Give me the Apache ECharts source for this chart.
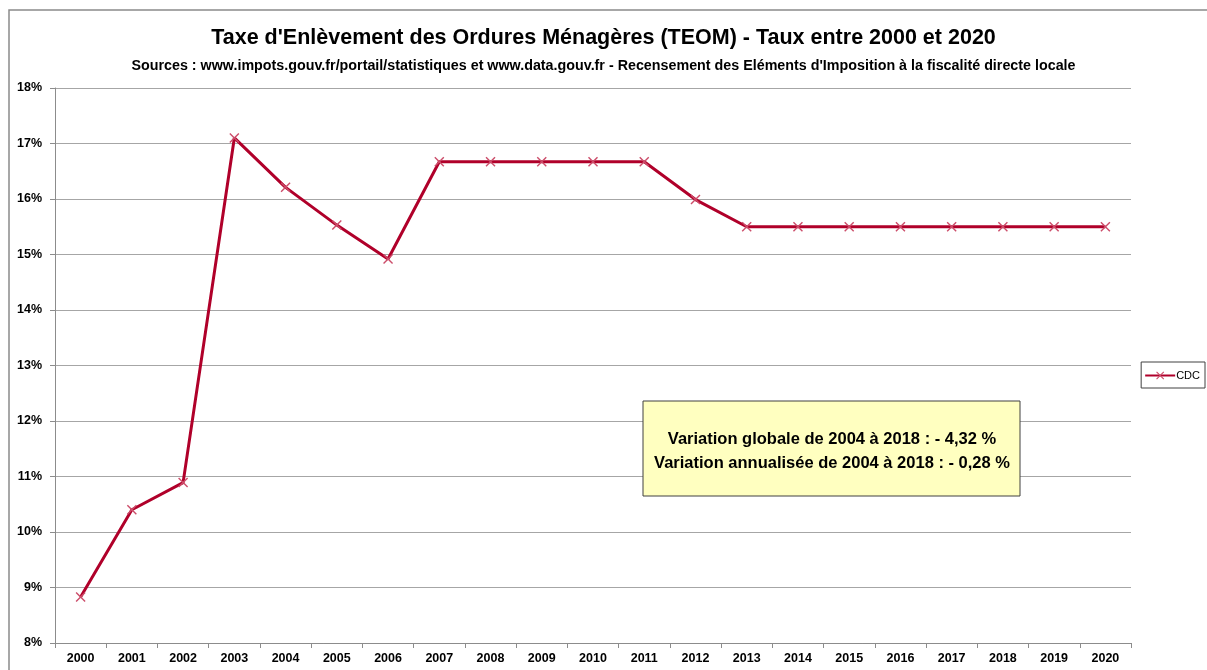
<!DOCTYPE html>
<html><head><meta charset="utf-8">
<script src="https://cdn.jsdelivr.net/npm/echarts@6/dist/echarts.min.js"></script>
<style>html,body{margin:0;padding:0;background:#fff}#c{width:1207px;height:670px}</style>
</head><body><div id="c"></div>
<script>
const years = ['2000','2001','2002','2003','2004','2005','2006','2007','2008','2009','2010','2011','2012','2013','2014','2015','2016','2017','2018','2019','2020'];
const cdc = [8.83,10.40,10.89,17.10,16.21,15.53,14.92,16.67,16.67,16.67,16.67,16.67,15.99,15.50,15.50,15.50,15.50,15.50,15.50,15.50,15.50];
const titleText = "Taxe d'Enlèvement des Ordures Ménagères (TEOM) - Taux entre 2000 et 2020";
const subtitleText = "Sources : www.impots.gouv.fr/portail/statistiques et www.data.gouv.fr - Recensement des Eléments d'Imposition à la fiscalité directe locale";
const noteLines = ['Variation globale de 2004 à 2018 : - 4,32 %', 'Variation annualisée de 2004 à 2018 : - 0,28 %'];
const FONT = '"Liberation Sans",sans-serif';
const xMark = 'path://M0,1 L1,0 L5,4 L9,0 L10,1 L6,5 L10,9 L9,10 L5,6 L1,10 L0,9 L4,5 Z';
const chart = echarts.init(document.getElementById('c'));
chart.setOption({
  animation: false,
  backgroundColor: '#fff',
  title: [
    {text: titleText, left: 'center', top: 22, textStyle: {fontFamily: FONT, fontSize: 21.5, fontWeight: 'bold', color: '#000'}},
    {text: subtitleText, left: 'center', top: 54, textStyle: {fontFamily: FONT, fontSize: 14.3, fontWeight: 'bold', color: '#000'}}
  ],
  grid: {left: 55, right: 76, top: 88, bottom: 27},
  legend: {
    right: 2, top: 362, orient: 'vertical',
    borderColor: '#404040', borderWidth: 1, padding: [8, 5, 7, 3],
    itemWidth: 30, itemHeight: 10, itemGap: 0,
    textStyle: {fontFamily: FONT, fontSize: 11, color: '#000', padding: [0, 0, 0, -4]},
    data: ['CDC']
  },
  xAxis: {
    type: 'category', data: years, boundaryGap: true,
    axisLine: {lineStyle: {color: '#8c8c8c'}},
    axisTick: {show: true, alignWithLabel: false, length: 5, lineStyle: {color: '#8c8c8c'}},
    axisLabel: {fontFamily: FONT, fontSize: 12.5, fontWeight: 'bold', color: '#000', margin: 9}
  },
  yAxis: {
    type: 'value', min: 8, max: 18, interval: 1,
    axisLine: {show: true, lineStyle: {color: '#8c8c8c'}},
    axisTick: {show: true, inside: false, length: 5, lineStyle: {color: '#8c8c8c'}},
    axisLabel: {formatter: '{value}%', fontFamily: FONT, fontSize: 12.5, fontWeight: 'bold', color: '#000', margin: 13},
    splitLine: {lineStyle: {color: '#a6a6a6', width: 1.2}}
  },
  series: [{
    name: 'CDC', type: 'line', data: cdc,
    symbol: xMark, symbolSize: 10, showAllSymbol: true,
    lineStyle: {color: '#b0002a', width: 3},
    itemStyle: {color: '#cc4d6a'},
    z: 3
  }],
  graphic: [
    {type: 'rect', shape: {x: 9, y: 10, width: 1300, height: 700}, style: {fill: 'none', stroke: '#8a8a8a', lineWidth: 1.5}, silent: true, z: -1},
    {type: 'rect', z: 100, shape: {x: 643, y: 401, width: 377, height: 95}, style: {fill: '#ffffc0', stroke: '#404040', lineWidth: 1}},
    {type: 'text', z: 101, x: 832, y: 439, style: {text: noteLines[0], fill: '#000', font: 'bold 16.5px ' + FONT, textAlign: 'center', textVerticalAlign: 'middle'}},
    {type: 'text', z: 101, x: 832, y: 463, style: {text: noteLines[1], fill: '#000', font: 'bold 16.5px ' + FONT, textAlign: 'center', textVerticalAlign: 'middle'}}
  ]
});
</script></body></html>
